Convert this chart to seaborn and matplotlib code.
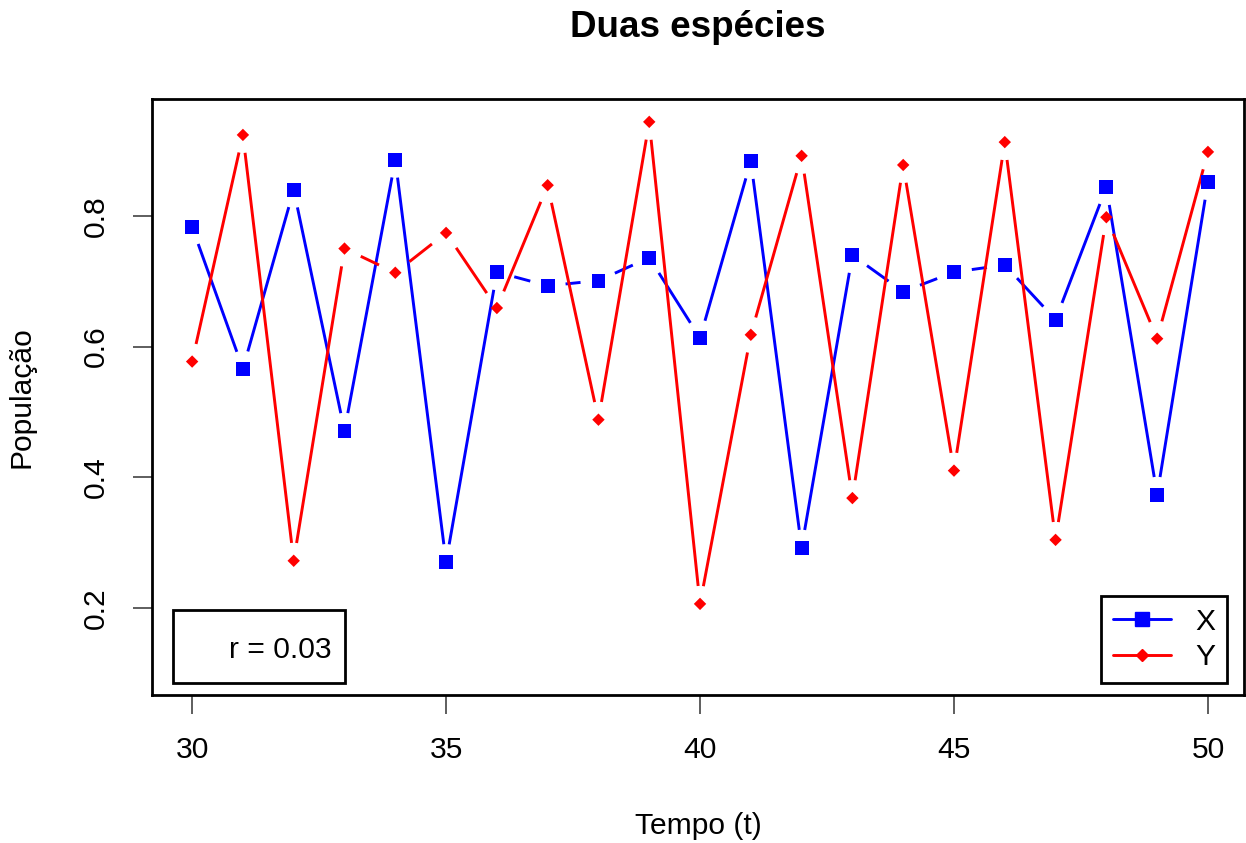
import numpy as np
import pandas as pd
import matplotlib
matplotlib.use("Agg")
import matplotlib.pyplot as plt
from matplotlib.lines import Line2D
from matplotlib.patches import Rectangle
import seaborn as sns

# ---- data ----
tempo = list(range(30, 51))
serie_x = [0.783, 0.566, 0.840, 0.471, 0.886, 0.270, 0.714, 0.693, 0.701, 0.736, 0.613,
           0.884, 0.292, 0.740, 0.684, 0.714, 0.725, 0.641, 0.844, 0.373, 0.852]
serie_y = [0.577, 0.924, 0.272, 0.750, 0.713, 0.774, 0.659, 0.847, 0.488, 0.944, 0.206,
           0.618, 0.892, 0.368, 0.878, 0.410, 0.913, 0.304, 0.798, 0.612, 0.898]
series_names = ["X", "Y"]
r_label = "r = 0.03"
title = "Duas espécies"
xlabel = "Tempo (t)"
ylabel = "População"
x_ticks = [30, 35, 40, 45, 50]
y_ticks = [0.2, 0.4, 0.6, 0.8]

df = pd.DataFrame({
    "t": tempo * 2,
    "pop": serie_x + serie_y,
    "serie": ["X"] * len(tempo) + ["Y"] * len(tempo),
})

sns.set_style("white")
plt.rcParams["font.family"] = ["Liberation Sans", "DejaVu Sans"]
plt.rcParams["text.color"] = "black"
plt.rcParams["axes.labelcolor"] = "black"
plt.rcParams["xtick.color"] = "black"
plt.rcParams["ytick.color"] = "black"

BLUE = "#0000ff"
RED = "#ff0000"
palette = {"X": BLUE, "Y": RED}
FS = 21.6
LW = 2.1

W, H = 1246, 843
fig = plt.figure(figsize=(W / 100, H / 100), dpi=100)
L, R, T, B = 152, 1244, 99, 695
ax = fig.add_axes([L / W, 1 - B / H, (R - L) / W, (B - T) / H])
ax.set_xlim(29.21, 50.71)
ax.set_ylim(0.0665, 0.979)

# markers
sns.scatterplot(data=df, x="t", y="pop", hue="serie", style="serie", size="serie",
                markers={"X": "s", "Y": "D"}, sizes={"X": 100, "Y": 40},
                palette=palette, linewidth=0, legend=False, ax=ax, zorder=3)

# lines with gaps around points (R type="b")
GAP = 18.0
trans = ax.transData
inv = trans.inverted()
for name, vals in zip(series_names, [serie_x, serie_y]):
    pts = trans.transform(np.column_stack([tempo, vals]))
    for p0, p1 in zip(pts[:-1], pts[1:]):
        d = p1 - p0
        n = np.hypot(*d)
        if n <= 2 * GAP:
            continue
        u = d / n
        a = inv.transform(p0 + u * GAP)
        b = inv.transform(p1 - u * GAP)
        ax.plot([a[0], b[0]], [a[1], b[1]], color=palette[name], lw=LW,
                solid_capstyle="butt", zorder=2)

# axes styling
for s in ax.spines.values():
    s.set_color("black")
    s.set_linewidth(2.0)
ax.set_xticks(x_ticks)
ax.set_yticks(y_ticks)
ax.set_xticklabels([str(v) for v in x_ticks])
ax.set_yticklabels([f"{v:.1f}" for v in y_ticks], rotation=90, va="center")
ax.tick_params(axis="both", which="major", direction="out", length=13.5, width=1.1,
               color="#333333", labelsize=FS, labelcolor="black", bottom=True, left=True)
ax.tick_params(axis="x", pad=16)
ax.tick_params(axis="y", pad=17)

ax.set_xlabel(xlabel, fontsize=FS, va="center", color="black")
ax.set_ylabel(ylabel, fontsize=FS, va="center", color="black")
ax.xaxis.set_label_coords(0.5, (B - 826) / (B - T))
ax.yaxis.set_label_coords((22 - L) / (R - L), 0.5)
ax.set_title(title, fontsize=26.5, fontweight="bold", color="black",
             y=(B - 37) / (B - T), pad=0)

# r box
x0 = (173 - L) / (R - L); x1 = (345 - L) / (R - L)
y0 = (B - 683) / (B - T); y1 = (B - 610) / (B - T)
ax.add_patch(Rectangle((x0, y0), x1 - x0, y1 - y0, transform=ax.transAxes,
                       fill=False, edgecolor="black", lw=2.0, zorder=5))
ax.text((332 - L) / (R - L), (B - 650) / (B - T), r_label, transform=ax.transAxes,
        ha="right", va="center", fontsize=FS, color="black", zorder=6)

# legend
handles = [
    Line2D([], [], color=BLUE, lw=LW, marker="s", markersize=10),
    Line2D([], [], color=RED, lw=LW, marker="D", markersize=6),
]
leg = ax.legend(handles, series_names, loc="lower right",
                bbox_to_anchor=((1227 - L) / (R - L), (B - 683) / (B - T)),
                borderaxespad=0, fontsize=FS, frameon=True, fancybox=False,
                edgecolor="black", framealpha=1, handlelength=1.93,
                handletextpad=0.8, borderpad=0.4, labelspacing=0.25)
leg.get_frame().set_linewidth(2.0)
for txt in leg.get_texts():
    txt.set_color("black")

fig.savefig("out.png", dpi=100)
